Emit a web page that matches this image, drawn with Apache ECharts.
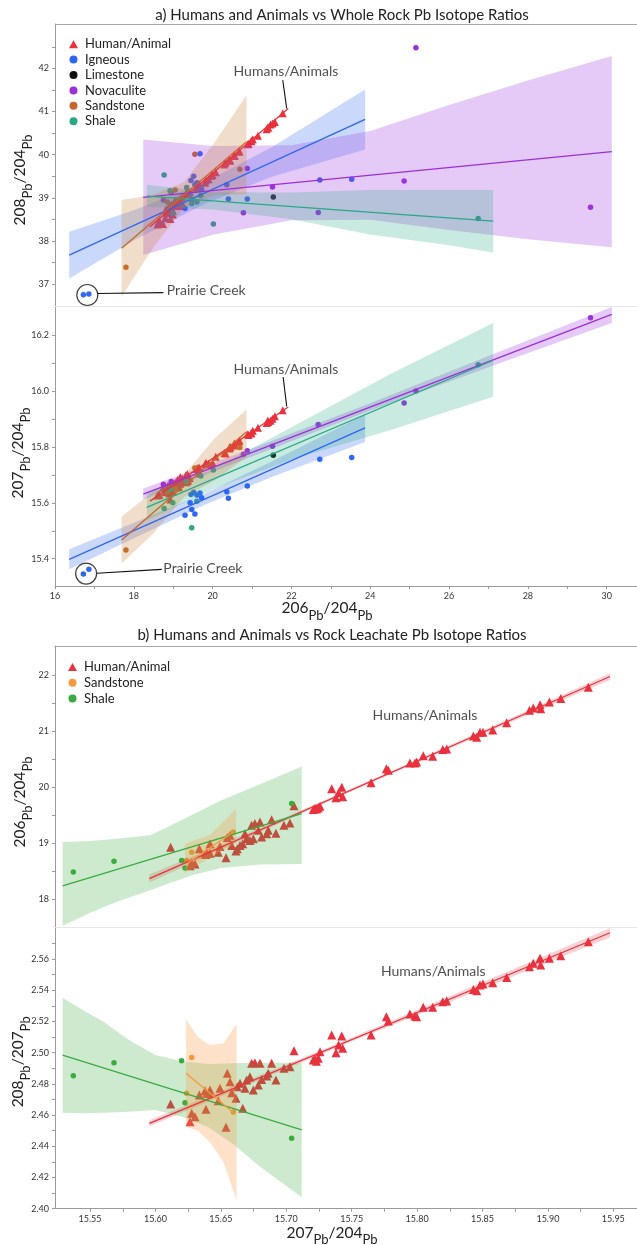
<!DOCTYPE html>
<html>
<head>
<meta charset="utf-8">
<script src="https://cdn.jsdelivr.net/npm/echarts@6/dist/echarts.min.js"></script>
<style>
html, body { margin: 0; padding: 0; background: #fff; }
#chart { width: 637px; height: 1245px; }
</style>
</head>
<body>
<div id="chart"></div>
<script>
var FONT = 'Lato';

// ---- human / animal samples (same samples in all four panels)
var hum207 = [15.6116, 15.6264, 15.6277, 15.6302, 15.6335, 15.6379, 15.6392, 15.6386, 15.6417, 15.6417, 15.6493, 15.6480,
  15.6539, 15.6549, 15.6570, 15.6583, 15.6615, 15.6625, 15.6646, 15.6667, 15.6684, 15.6697, 15.6722, 15.6748, 15.6735,
  15.6760, 15.6799, 15.6786, 15.6812, 15.6850, 15.6862, 15.6888, 15.6921, 15.6982, 15.7028, 15.7059,
  15.7206, 15.7220, 15.7245, 15.7258, 15.7230, 15.7347, 15.7424, 15.7380, 15.7431, 15.7400, 15.7648, 15.7765, 15.7780,
  15.7945, 15.7984, 15.7997, 15.8047, 15.8119, 15.8196, 15.8226, 15.8430, 15.8456, 15.8481, 15.8504, 15.8578, 15.8685,
  15.8859, 15.8888, 15.8940, 15.8945, 15.9011, 15.9098, 15.9309];
var hum206 = [18.93, 18.60, 18.65, 18.63, 18.90, 18.81, 18.84, 18.80, 18.82, 18.99, 18.94, 18.84, 18.74, 19.10, 19.14,
  18.96, 18.86, 18.90, 18.96, 18.99, 19.17, 19.08, 19.05, 19.08, 19.32, 19.35, 19.38, 19.23, 19.11, 19.17, 19.23, 19.42,
  19.18, 19.32, 19.36, 19.67,
  19.60, 19.62, 19.63, 19.66, 19.61, 19.97, 20.00, 19.81, 19.83, 19.90, 20.08, 20.33, 20.30, 20.43, 20.43, 20.45, 20.56,
  20.55, 20.67, 20.68, 20.91, 20.89, 20.98, 20.98, 21.02, 21.15, 21.37, 21.41, 21.47, 21.40, 21.52, 21.58, 21.78];
var hum208 = [38.51, 38.38, 38.46, 38.43, 38.66, 38.71, 38.69, 38.53, 38.73, 38.70, 38.77, 38.64, 38.39, 38.93, 38.85,
  38.75, 38.70, 38.82, 38.85, 38.61, 38.81, 38.90, 38.94, 38.81, 39.08, 39.09, 39.09, 38.87, 38.94, 38.98, 39.01, 39.12,
  38.96, 39.09, 39.12, 39.29,
  39.23, 39.24, 39.25, 39.32, 39.22, 39.51, 39.53, 39.35, 39.40, 39.43, 39.59, 39.81, 39.77, 39.88, 39.87, 39.86, 39.97,
  39.99, 40.07, 40.08, 40.25, 40.24, 40.31, 40.32, 40.36, 40.44, 40.59, 40.63, 40.70, 40.63, 40.72, 40.76, 40.96];
var hum87 = [2.4671, 2.4558, 2.4612, 2.4590, 2.4729, 2.4756, 2.4740, 2.4637, 2.4761, 2.4740, 2.4772, 2.4692, 2.4522,
  2.4868, 2.4814, 2.4744, 2.4708, 2.4782, 2.4804, 2.4644, 2.4772, 2.4825, 2.4846, 2.4761, 2.4932, 2.4936, 2.4932, 2.4793,
  2.4829, 2.4851, 2.4868, 2.4932, 2.4825, 2.4900, 2.4910, 2.5013,
  2.4953, 2.4960, 2.4964, 2.5006, 2.4945, 2.5113, 2.5107, 2.5000, 2.5028, 2.5049, 2.5113, 2.5231, 2.5203, 2.5248, 2.5235,
  2.5231, 2.5291, 2.5291, 2.5327, 2.5331, 2.5406, 2.5397, 2.5434, 2.5440, 2.5449, 2.5483, 2.5551, 2.5573, 2.5605, 2.5562,
  2.5605, 2.5622, 2.5712];

// ---- whole rock samples
var ign206 = [16.72, 16.86, 19.30, 19.43, 19.47, 19.55, 19.45, 19.52, 19.60, 19.68, 19.72, 20.36, 20.40, 20.88, 22.72, 23.53];
var ign207 = [15.345, 15.362, 15.556, 15.600, 15.576, 15.560, 15.630, 15.638, 15.628, 15.635, 15.618, 15.640, 15.616, 15.660, 15.756, 15.762];
var ign208 = [36.75, 36.77, 38.75, 39.10, 38.95, 39.30, 39.40, 39.50, 39.35, 40.02, 39.20, 39.30, 38.97, 38.97, 39.41, 39.43];
var lim206 = [21.54];
var lim207 = [15.770];
var lim208 = [39.02];
var nov206 = [18.75, 18.95, 20.78, 20.88, 21.52, 22.68, 24.86, 25.16, 29.59];
var nov207 = [15.666, 15.676, 15.774, 15.786, 15.802, 15.880, 15.957, 16.000, 16.262];
var nov208 = [38.95, 39.12, 38.65, 39.68, 39.25, 38.66, 39.39, 42.48, 38.78];
var san206 = [17.80, 18.85, 19.05, 19.55, 20.69];
var san207 = [15.431, 15.640, 15.650, 15.725, 15.798];
var san208 = [37.39, 38.90, 39.18, 40.01, 39.66];
var sha206 = [18.77, 18.92, 18.99, 19.34, 19.47, 19.60, 19.70, 20.02, 26.74];
var sha207 = [15.580, 15.649, 15.600, 15.675, 15.511, 15.606, 15.696, 15.717, 16.094];
var sha208 = [39.53, 39.16, 38.64, 39.24, 38.87, 38.90, 39.05, 38.39, 38.52];

// ---- rock leachate samples
var lSan207 = [15.6238, 15.6277, 15.6595];
var lSan206 = [18.69, 18.84, 19.20];
var lSan87 = [2.474, 2.497, 2.462];
var lSha207 = [15.5372, 15.5683, 15.6200, 15.6226, 15.7041];
var lSha206 = [18.485, 18.68, 18.69, 18.56, 19.71];
var lSha87 = [2.4853, 2.4936, 2.4949, 2.4679, 2.4451];

// ---- regression lines [x, y] end points
var ignFitA = [[16.36, 37.67], [23.87, 40.82]];
var novFitA = [[18.24, 39.01], [30.13, 40.07]];
var shaFitA = [[18.33, 39.04], [27.12, 38.46]];
var sanFitA = [[17.69, 37.83], [20.86, 40.30]];
var humFitA = [[18.41, 38.33], [21.92, 41.07]];
var ignFitB = [[16.36, 15.398], [23.87, 15.868]];
var novFitB = [[18.24, 15.631], [30.13, 16.274]];
var shaFitB = [[18.33, 15.584], [27.12, 16.110]];
var sanFitB = [[17.69, 15.467], [20.86, 15.854]];
var humFitB = [[18.41, 15.606], [21.92, 15.943]];
var humFitC = [[15.5953, 18.367], [15.9475, 21.973]];
var shaFitC = [[15.529, 18.24], [15.7118, 19.526]];
var sanFitC = [[15.6238, 18.635], [15.6595, 19.20]];
var humFitD = [[15.5953, 2.4547], [15.9475, 2.5769]];
var shaFitD = [[15.529, 2.4985], [15.7118, 2.4505]];
var sanFitD = [[15.6233, 2.4868], [15.6595, 2.4616]];

// ---- confidence bands [x, lower, upper]
var ignBandA = [[16.36, 37.13, 38.21], [18.0, 38.01, 38.71], [19.8, 38.86, 39.36], [21.5, 39.49, 40.17], [23.87, 40.12, 41.51]];
var novBandA = [[18.24, 37.67, 40.35], [20, 38.14, 40.20], [22, 38.48, 40.22], [24, 38.49, 40.55], [26, 38.25, 41.15], [28, 38.04, 41.72], [30.13, 37.85, 42.29]];
var shaBandA = [[18.33, 38.79, 39.30], [20, 38.73, 39.13], [22, 38.50, 39.12], [24, 38.15, 39.18], [26, 37.90, 39.18], [27.12, 37.73, 39.18]];
var sanBandA = [[17.69, 36.71, 38.95], [18.5, 37.85, 39.07], [19.27, 38.76, 39.36], [20.05, 39.06, 40.28], [20.86, 39.09, 41.38]];
var ignBandB = [[16.36, 15.362, 15.434], [18.0, 15.473, 15.529], [19.8, 15.593, 15.633], [21.5, 15.692, 15.748], [23.87, 15.818, 15.916]];
var novBandB = [[18.24, 15.612, 15.651], [21, 15.766, 15.794], [24, 15.930, 15.956], [27, 16.085, 16.125], [30.13, 16.243, 16.300]];
var shaBandB = [[18.33, 15.538, 15.636], [20, 15.649, 15.719], [22, 15.755, 15.870], [24.5, 15.86, 16.06], [27.12, 15.979, 16.243]];
var sanBandB = [[17.69, 15.383, 15.550], [18.5, 15.491, 15.641], [19.27, 15.620, 15.700], [20.05, 15.680, 15.830], [20.86, 15.764, 15.934]];
var humBandC = [[15.5953, 18.30, 18.44], [15.70, 19.41, 19.47], [15.77, 20.13, 20.18], [15.86, 21.04, 21.11], [15.9475, 21.91, 22.03]];
var shaBandC = [[15.529, 17.53, 19.02], [15.55, 17.76, 19.04], [15.57, 17.95, 19.08], [15.596, 18.16, 19.14], [15.61, 18.28, 19.30], [15.63, 18.44, 19.53], [15.65, 18.56, 19.76], [15.68, 18.62, 20.05], [15.7118, 18.63, 20.37]];
var sanBandC = [[15.6225, 18.46, 18.99], [15.642, 18.75, 19.15], [15.6615, 18.99, 19.61]];
var humBandD = [[15.5953, 2.4527, 2.4567], [15.75, 2.5072, 2.5096], [15.9475, 2.5739, 2.5799]];
var shaBandD = [[15.529, 2.4615, 2.5353], [15.545, 2.4612, 2.5270], [15.56, 2.4615, 2.5200], [15.58, 2.4622, 2.5080], [15.60, 2.4633, 2.4985], [15.62, 2.4590, 2.4945], [15.64, 2.4526, 2.4928], [15.66, 2.4410, 2.4932], [15.68, 2.4269, 2.4936], [15.7118, 2.4073, 2.4936]];
var sanBandD = [[15.6233, 2.4526, 2.5214], [15.6325, 2.4500, 2.5100], [15.6414, 2.4430, 2.5050], [15.652, 2.4300, 2.5060], [15.662, 2.4056, 2.5184]];

// ---- annotations
var prairieA = [16.82, 36.745];
var prairieLineA = [[17.07, 36.78], [18.75, 36.80]];
var prairieTextA = [18.835, 36.845];
var humPtrA = [[21.78, 41.73], [21.88, 41.07]];
var humTextA = [21.86, 41.94];
var prairieB = [16.79, 15.347];
var prairieLineB = [[17.06, 15.348], [18.71, 15.362]];
var prairieTextB = [18.75, 15.364];
var humPtrB = [[21.79, 16.05], [21.88, 15.945]];
var humTextB = [21.86, 16.077];
var humTextC = [15.806, 21.27];
var humTextD = [15.8124, 2.5519];

// ---- ticks and tick labels
var xTickA = [16, 17, 18, 19, 20, 21, 22, 23, 24, 25, 26, 27, 28, 29, 30];
var xLabA = [16, 18, 20, 22, 24, 26, 28, 30];
var yTickA = [37, 37.5, 38, 38.5, 39, 39.5, 40, 40.5, 41, 41.5, 42, 42.5];
var yLabA = [37, 38, 39, 40, 41, 42];
var yTickB = [15.4, 15.5, 15.6, 15.7, 15.8, 15.9, 16.0, 16.1, 16.2];
var yLabB = [15.4, 15.6, 15.8, 16.0, 16.2];
var xTickC = [15.55, 15.575, 15.6, 15.625, 15.65, 15.675, 15.7, 15.725, 15.75, 15.775, 15.8, 15.825, 15.85, 15.875, 15.9, 15.925, 15.95];
var xLabC = [15.55, 15.6, 15.65, 15.7, 15.75, 15.8, 15.85, 15.9, 15.95];
var yTickC = [18, 18.5, 19, 19.5, 20, 20.5, 21, 21.5, 22];
var yLabC = [18, 19, 20, 21, 22];
var yTickD = [2.40, 2.41, 2.42, 2.43, 2.44, 2.45, 2.46, 2.47, 2.48, 2.49, 2.50, 2.51, 2.52, 2.53, 2.54, 2.55, 2.56, 2.57];
var yLabD = [2.40, 2.42, 2.44, 2.46, 2.48, 2.50, 2.52, 2.54, 2.56];

var C = {
  human: '#e8323e', igneous: '#2f67f0', limestone: '#111111', novaculite: '#9b2fd8',
  sandstone: '#c4682c', shale: '#2aa886', sandB: '#f59a3c', shaleB: '#3aab3f'
};

var chartDom = document.getElementById('chart');
var myChart = echarts.init(chartDom);

var nameRich = {
  n: { fontSize: 15.5, fontFamily: FONT, color: '#222', verticalAlign: 'top', lineHeight: 22 },
  p: { fontSize: 13, fontFamily: FONT, color: '#222', verticalAlign: 'bottom', lineHeight: 22 }
};

function pairs(xs, ys) {
  return xs.map(function (x, i) { return [x, ys[i]]; });
}

function scatter(name, xi, yi, xs, ys, color, symbol, size) {
  return {
    name: name, type: 'scatter', xAxisIndex: xi, yAxisIndex: yi, symbol: symbol, symbolSize: size,
    itemStyle: { color: color, opacity: 1 }, z: 2, silent: true, data: pairs(xs, ys)
  };
}

function fit(xi, yi, pts, color) {
  return {
    type: 'line', xAxisIndex: xi, yAxisIndex: yi, data: pts, symbol: 'none',
    lineStyle: { color: color, width: 1.3 }, z: 4, silent: true
  };
}

function band(xi, yi, rows, fill) {
  return {
    type: 'custom', xAxisIndex: xi, yAxisIndex: yi, z: 3, silent: true, data: rows,
    encode: { x: 0, y: [1, 2] },
    renderItem: function (params, api) {
      if (params.dataIndex !== 0) return null;
      var top = rows.map(function (r) { return api.coord([r[0], r[2]]); });
      var bot = rows.slice().reverse().map(function (r) { return api.coord([r[0], r[1]]); });
      return { type: 'polygon', shape: { points: top.concat(bot) }, style: { fill: fill } };
    }
  };
}

function ptr(xi, yi, pts) {
  return {
    type: 'line', xAxisIndex: xi, yAxisIndex: yi, data: pts, symbol: 'none',
    lineStyle: { color: '#111', width: 1.1 }, z: 6, silent: true
  };
}

function text(xi, yi, pt, str, pos) {
  return {
    type: 'scatter', xAxisIndex: xi, yAxisIndex: yi, data: [pt], symbolSize: 0, z: 6, silent: true,
    label: { show: true, position: pos, distance: 0, formatter: str, fontSize: 14, fontFamily: FONT, color: '#222' }
  };
}

function ring(xi, yi, pt) {
  return {
    type: 'scatter', xAxisIndex: xi, yAxisIndex: yi, data: [pt], symbol: 'circle', symbolSize: 21, z: 6, silent: true,
    itemStyle: { color: 'rgba(0,0,0,0)', borderColor: '#111', borderWidth: 1.2 }
  };
}

function yAxis(gi, min, max, ticks, labs, dec, name, pad, gap) {
  return {
    type: 'value', gridIndex: gi, min: min, max: max,
    axisLine: { show: true, lineStyle: { color: '#9a9a9a' } },
    axisTick: { show: true, customValues: ticks, length: 3, lineStyle: { color: '#9a9a9a' } },
    axisLabel: {
      customValues: labs, fontSize: 9, color: '#333', margin: 6, fontFamily: FONT,
      formatter: function (v) { return dec ? v.toFixed(dec) : String(v); }
    },
    splitLine: { show: false },
    name: name, nameLocation: 'middle', nameGap: gap, nameRotate: 90, nameMoveOverlap: false,
    nameTextStyle: { rich: nameRich, padding: pad }
  };
}

function xAxisBottom(gi, min, max, ticks, labs, dec, name, pad, gap) {
  return {
    type: 'value', gridIndex: gi, min: min, max: max, position: 'bottom',
    axisLine: { show: true, onZero: false, lineStyle: { color: '#9a9a9a' } },
    axisTick: { show: true, customValues: ticks, length: 3, lineStyle: { color: '#9a9a9a' } },
    axisLabel: {
      customValues: labs, fontSize: 9, color: '#333', margin: 6, fontFamily: FONT,
      formatter: function (v) { return dec ? v.toFixed(dec) : String(v); }
    },
    splitLine: { show: false },
    name: name, nameLocation: 'middle', nameGap: gap, nameMoveOverlap: false,
    nameTextStyle: { rich: nameRich, padding: pad }
  };
}

function xAxisLine(gi, min, max, pos, color) {
  return {
    type: 'value', gridIndex: gi, min: min, max: max, position: pos,
    axisLine: { show: true, onZero: false, lineStyle: { color: color } },
    axisTick: { show: false }, axisLabel: { show: false }, splitLine: { show: false }
  };
}

var XA = [16, 30.77];
var XC = [15.5232, 15.9681];

var option = {
  animation: false,
  backgroundColor: '#ffffff',
  title: [
    {
      text: 'a) Humans and Animals vs Whole Rock Pb Isotope Ratios', left: 337, top: 2.5, textAlign: 'center',
      textStyle: { fontFamily: FONT, fontSize: 15, fontWeight: 'normal', color: '#222' }
    },
    {
      text: 'b) Humans and Animals vs Rock Leachate Pb Isotope Ratios', left: 327, top: 622.5, textAlign: 'center',
      textStyle: { fontFamily: FONT, fontSize: 15, fontWeight: 'normal', color: '#222' }
    }
  ],
  legend: [
    {
      data: ['Human/Animal', 'Igneous', 'Limestone', 'Novaculite', 'Sandstone', 'Shale'],
      orient: 'vertical', left: 64, top: 31.5, itemWidth: 9, itemHeight: 8, itemGap: 0, selectedMode: false,
      textStyle: { fontFamily: FONT, fontSize: 13, color: '#222', lineHeight: 15.4, padding: [0, 0, 0, 2] }
    },
    {
      data: ['Human/Animal ', 'Sandstone ', 'Shale '],
      orient: 'vertical', left: 63, top: 654, itemWidth: 9, itemHeight: 8, itemGap: 0, selectedMode: false,
      textStyle: { fontFamily: FONT, fontSize: 13, color: '#222', lineHeight: 15.8, padding: [0, 0, 0, 2] }
    }
  ],
  grid: [
    { left: 55, top: 24, width: 582, height: 282, outerBoundsMode: 'none', containLabel: false },
    { left: 55, top: 306, width: 582, height: 280, outerBoundsMode: 'none', containLabel: false },
    { left: 55, top: 646, width: 582, height: 281, outerBoundsMode: 'none', containLabel: false },
    { left: 55, top: 927, width: 582, height: 281.7, outerBoundsMode: 'none', containLabel: false }
  ],
  xAxis: [
    xAxisLine(0, XA[0], XA[1], 'bottom', '#e6e6e6'),
    xAxisLine(0, XA[0], XA[1], 'top', '#a8a8a8'),
    xAxisBottom(1, XA[0], XA[1], xTickA, xLabA, 0, '{n|206}{p|Pb}{n|/204}{p|Pb}', [0, 38, 0, 0], 14),
    xAxisLine(2, XC[0], XC[1], 'bottom', '#e6e6e6'),
    xAxisLine(2, XC[0], XC[1], 'top', '#a8a8a8'),
    xAxisBottom(3, XC[0], XC[1], xTickC, xLabC, 2, '{n|207}{p|Pb}{n|/204}{p|Pb}', [0, 28, 0, 0], 16)
  ],
  yAxis: [
    yAxis(0, 36.49, 43.03, yTickA, yLabA, 0, '{n|208}{p|Pb}{n|/204}{p|Pb}', [0, 30, 0, 0], 21),
    yAxis(1, 15.3025, 16.304, yTickB, yLabB, 1, '{n|207}{p|Pb}{n|/204}{p|Pb}', [0, 14, 0, 0], 23),
    yAxis(2, 17.506, 22.517, yTickC, yLabC, 0, '{n|206}{p|Pb}{n|/204}{p|Pb}', [0, 31, 0, 0], 21),
    yAxis(3, 2.40, 2.5806, yTickD, yLabD, 2, '{n|208}{p|Pb}{n|/207}{p|Pb}', [0, 0, 0, 12], 23)
  ],
  series: [
    // panel 1: 208/204 vs 206/204
    scatter('Human/Animal', 0, 0, hum206, hum208, C.human, 'triangle', 8),
    scatter('Igneous', 0, 0, ign206, ign208, C.igneous, 'circle', 5.5),
    scatter('Limestone', 0, 0, lim206, lim208, C.limestone, 'circle', 5.5),
    scatter('Novaculite', 0, 0, nov206, nov208, C.novaculite, 'circle', 5.5),
    scatter('Sandstone', 0, 0, san206, san208, C.sandstone, 'circle', 5.5),
    scatter('Shale', 0, 0, sha206, sha208, C.shale, 'circle', 5.5),
    band(0, 0, ignBandA, 'rgba(45,105,240,0.25)'),
    band(0, 0, novBandA, 'rgba(160,60,225,0.27)'),
    band(0, 0, shaBandA, 'rgba(40,170,130,0.25)'),
    band(0, 0, sanBandA, 'rgba(200,125,45,0.25)'),
    fit(0, 0, humFitA, C.human),
    fit(0, 0, ignFitA, C.igneous),
    fit(0, 0, novFitA, C.novaculite),
    fit(0, 0, shaFitA, C.shale),
    fit(0, 0, sanFitA, C.sandstone),
    ring(0, 0, prairieA),
    ptr(0, 0, prairieLineA),
    text(0, 0, prairieTextA, 'Prairie Creek', 'right'),
    ptr(0, 0, humPtrA),
    text(0, 0, humTextA, 'Humans/Animals', 'inside'),

    // panel 2: 207/204 vs 206/204
    scatter('Human/Animal', 2, 1, hum206, hum207, C.human, 'triangle', 8),
    scatter('Igneous', 2, 1, ign206, ign207, C.igneous, 'circle', 5.5),
    scatter('Limestone', 2, 1, lim206, lim207, C.limestone, 'circle', 5.5),
    scatter('Novaculite', 2, 1, nov206, nov207, C.novaculite, 'circle', 5.5),
    scatter('Sandstone', 2, 1, san206, san207, C.sandstone, 'circle', 5.5),
    scatter('Shale', 2, 1, sha206, sha207, C.shale, 'circle', 5.5),
    band(2, 1, ignBandB, 'rgba(45,105,240,0.25)'),
    band(2, 1, novBandB, 'rgba(160,60,225,0.27)'),
    band(2, 1, shaBandB, 'rgba(40,170,130,0.25)'),
    band(2, 1, sanBandB, 'rgba(200,125,45,0.25)'),
    fit(2, 1, humFitB, C.human),
    fit(2, 1, ignFitB, C.igneous),
    fit(2, 1, novFitB, C.novaculite),
    fit(2, 1, shaFitB, C.shale),
    fit(2, 1, sanFitB, C.sandstone),
    ring(2, 1, prairieB),
    ptr(2, 1, prairieLineB),
    text(2, 1, prairieTextB, 'Prairie Creek', 'right'),
    ptr(2, 1, humPtrB),
    text(2, 1, humTextB, 'Humans/Animals', 'inside'),

    // panel 3: 206/204 vs 207/204 (leachate)
    scatter('Human/Animal ', 3, 2, hum207, hum206, C.human, 'triangle', 9),
    scatter('Sandstone ', 3, 2, lSan207, lSan206, C.sandB, 'circle', 5.5),
    scatter('Shale ', 3, 2, lSha207, lSha206, C.shaleB, 'circle', 5.5),
    band(3, 2, humBandC, 'rgba(232,50,62,0.22)'),
    band(3, 2, shaBandC, 'rgba(60,170,60,0.25)'),
    band(3, 2, sanBandC, 'rgba(248,150,60,0.28)'),
    fit(3, 2, humFitC, C.human),
    fit(3, 2, shaFitC, C.shaleB),
    fit(3, 2, sanFitC, C.sandB),
    text(3, 2, humTextC, 'Humans/Animals', 'inside'),

    // panel 4: 208/207 vs 207/204 (leachate)
    scatter('Human/Animal ', 5, 3, hum207, hum87, C.human, 'triangle', 9),
    scatter('Sandstone ', 5, 3, lSan207, lSan87, C.sandB, 'circle', 5.5),
    scatter('Shale ', 5, 3, lSha207, lSha87, C.shaleB, 'circle', 5.5),
    band(5, 3, humBandD, 'rgba(232,50,62,0.22)'),
    band(5, 3, shaBandD, 'rgba(60,170,60,0.25)'),
    band(5, 3, sanBandD, 'rgba(248,150,60,0.28)'),
    fit(5, 3, humFitD, C.human),
    fit(5, 3, shaFitD, C.shaleB),
    fit(5, 3, sanFitD, C.sandB),
    text(5, 3, humTextD, 'Humans/Animals', 'inside')
  ]
};

option && myChart.setOption(option);

window.addEventListener('resize', function () {
  myChart.resize();
});
</script>
</body>
</html>
